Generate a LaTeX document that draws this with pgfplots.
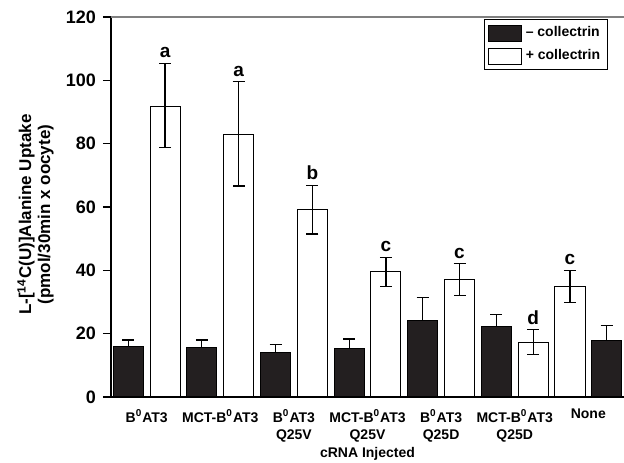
\documentclass[border=0pt]{standalone}
\usepackage{pgfplots}
\pgfplotsset{compat=1.18}
\usepackage{fontspec}
\setmainfont{Liberation Sans}
\definecolor{barblack}{HTML}{231F20}
\begin{document}
\begin{tikzpicture}
\begin{axis}[name=ax, scale only axis, width=256.5pt, height=190pt,
  xmin=-0.47, xmax=13.47, ymin=0, ymax=120,
  ytick={0,20,...,120},
  axis x line*=bottom, axis y line*=left,
  axis line style={line width=0.7pt, black},
  tick align=outside, major tick length=4pt,
  y tick style={line width=0.6pt, black},
  /pgf/number format/assume math mode=true,
  y tick label style={font=\fontsize{9}{10}\selectfont\bfseries},
  xtick={0.5,2.5,4.5,6.5,8.5,10.5,12.5},
  xticklabels={B\textsuperscript{0}AT3, MCT-B\textsuperscript{0}AT3, B\textsuperscript{0}AT3\\Q25V, MCT-B\textsuperscript{0}AT3\\Q25V, B\textsuperscript{0}AT3\\Q25D, MCT-B\textsuperscript{0}AT3\\Q25D, None},
  x tick label style={font=\fontsize{7}{8.6}\selectfont\bfseries, align=center, anchor=north, yshift=1.5pt},
  x tick style={draw=none},
  xlabel={cRNA Injected},
  xlabel style={font=\fontsize{7}{8}\selectfont\bfseries, at={(rel axis cs:0.5,0)}, anchor=base, yshift=-30.5pt},
  ylabel={L-[\textsuperscript{14}C(U)]Alanine Uptake\\(pmol/30min x oocyte)},
  ylabel style={font=\fontsize{8.5}{9.5}\selectfont\bfseries, align=center, at={(rel axis cs:-0.147,0.48)}, anchor=center},
  legend style={at={(1,1)}, anchor=north east, xshift=-8.2pt, yshift=-1pt, draw=black, line width=0.5pt,
    font=\fontsize{7}{8}\selectfont\bfseries, inner sep=1.5pt, row sep=1pt, cells={anchor=west}},
  legend cell align=left,
]
\addplot[ybar, bar width=0.82, bar shift=0pt, fill=barblack, draw=black, line width=0.5pt,
  legend image code/.code={\draw[fill=barblack, draw=black, line width=0.5pt] (0pt,-4pt) rectangle (16.5pt,4pt);},
  error bars/.cd, y dir=plus, y explicit,
  error bar style={line width=0.6pt, black},
  error mark options={rotate=90, mark size=3pt, line width=0.6pt, black}]
  table[x=x, y=y, y error plus=ep, y error minus=em] {
x y ep em
0 16.1 1.9 1.9
2 15.7 2.3 2.3
4 14.1 2.5 2.5
6 15.2 3.1 3.1
8 24.1 7.4 7.4
10 22.4 3.6 3.6
13 17.8 4.7 4.7
};
\addplot[ybar, bar width=0.82, bar shift=0pt, fill=white, draw=black, line width=0.5pt,
  legend image code/.code={\draw[fill=white, draw=black, line width=0.5pt] (0pt,-4pt) rectangle (16.5pt,4pt);},
  error bars/.cd, y dir=both, y explicit,
  error bar style={line width=0.6pt, black},
  error mark options={rotate=90, mark size=3pt, line width=0.6pt, black}]
  table[x=x, y=y, y error plus=ep, y error minus=em] {
x y ep em
1 91.7 13.6 13.0
3 83.0 16.6 16.4
5 59.3 7.6 7.8
7 39.6 4.5 4.6
9 37.2 4.9 5.1
11 17.3 3.9 3.9
12 35.0 5.0 5.2
};
\addplot[draw=none, mark=none, forget plot, nodes near coords, point meta=explicit symbolic,
  nodes near coords style={font=\fontsize{9.5}{10}\selectfont\bfseries, anchor=south, inner sep=1pt, yshift=1.5pt}]
  table[x=x, y=y, meta=lab] {
x y lab
1 105.3 a
3 99.6 a
5 66.9 b
7 44.1 c
9 42.1 c
11 21.2 d
12 40.0 c
};
\legend{-- collectrin, + collectrin}
\end{axis}
\draw[gray, line width=0.6pt] (ax.north west) -- (ax.north east);
\pgfresetboundingbox
\path[use as bounding box] ([xshift=-55.5pt,yshift=-33pt]ax.south west) rectangle ([yshift=8.5pt]ax.north east);
\end{tikzpicture}
\end{document}
